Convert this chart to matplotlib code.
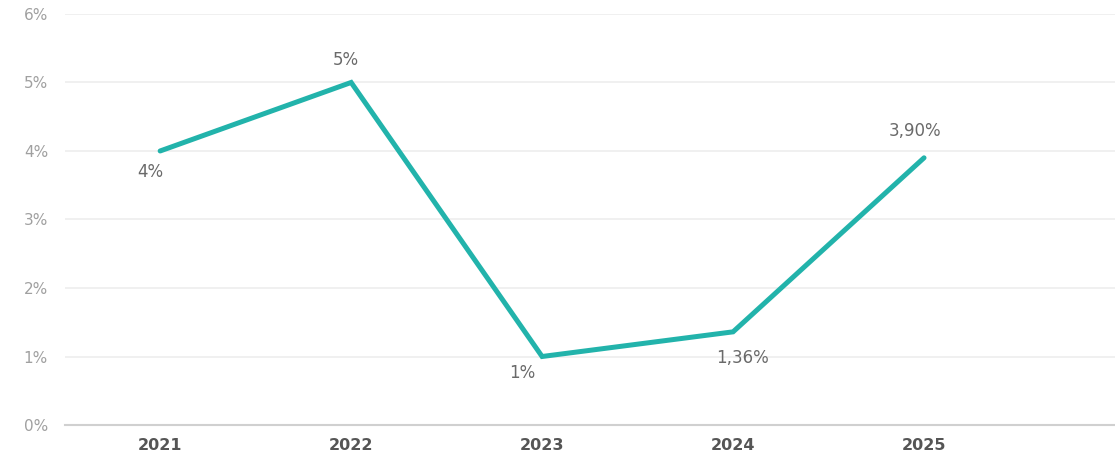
import matplotlib.pyplot as plt

plt.rcParams['font.family'] = ['DejaVu Sans']

anos = ["2021", "2022", "2023", "2024", "2025"]
taxas = [4.0, 5.0, 1.0, 1.36, 3.90]
rotulos = ["4%", "5%", "1%", "1,36%", "3,90%"]
yticks = [0, 1, 2, 3, 4, 5, 6]

fig = plt.figure(figsize=(11.15, 4.65), dpi=100)
ax = fig.add_axes([0.058, 0.086, 0.942, 0.884])

x = list(range(len(anos)))
ax.plot(x, taxas, color="#22b3ab", linewidth=3.6, solid_capstyle="round",
        solid_joinstyle="miter", zorder=3)

# posição de cada rótulo em relação ao ponto (pontos tipográficos)
desloc = [(-7, -15), (-3.5, 16), (-14, -12), (7, -19), (-6.5, 19.5)]
for xi, yi, txt, (dx, dy) in zip(x, taxas, rotulos, desloc):
    ax.annotate(txt, (xi, yi), xytext=(dx, dy), textcoords="offset points",
                ha="center", va="center", fontsize=12, color="#6a6a6a")

ax.set_xlim(-0.5, 5.0)
ax.set_ylim(0, 6)
ax.set_yticks(yticks)
ax.set_yticklabels([f"{v}%" for v in yticks], color="#a0a0a0", fontsize=11)
ax.set_xticks(x)
ax.set_xticklabels(anos, fontweight="bold", color="#555555", fontsize=11.5)
ax.tick_params(axis="both", length=0)
ax.tick_params(axis="y", pad=12)
ax.tick_params(axis="x", pad=9)

ax.grid(axis="y", color="#eeeeee", linewidth=1.2)
ax.set_axisbelow(True)
for lado in ["top", "right", "left"]:
    ax.spines[lado].set_visible(False)
ax.spines["bottom"].set_color("#d0d0d0")
ax.spines["bottom"].set_linewidth(1.5)

fig.savefig("out.png", dpi=100)
